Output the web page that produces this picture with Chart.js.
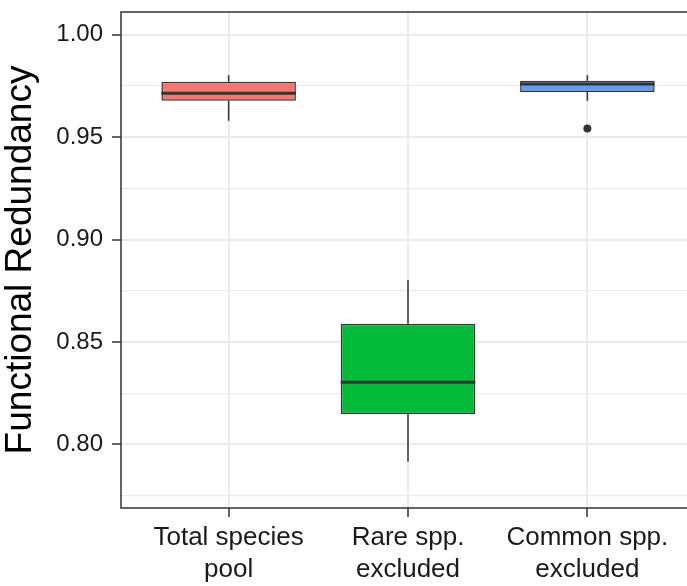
<!DOCTYPE html>
<html>
<head>
<meta charset="utf-8">
<script src="https://cdn.jsdelivr.net/npm/chart.js@4"></script>
<style>
html, body { margin: 0; padding: 0; overflow: hidden; background: #fff; }
</style>
</head>
<body>
<canvas id="chart" width="700" height="586"></canvas>
<script>
const groups = [['Total species', 'pool'], ['Rare spp.', 'excluded'], ['Common spp.', 'excluded']];
const positions = [1, 2, 3];
const lowerWhisker = [0.9580, 0.7916, 0.9677];
const q1 = [0.9677, 0.8149, 0.9720];
const median = [0.9713, 0.8303, 0.9759];
const q3 = [0.9770, 0.8589, 0.9775];
const upperWhisker = [0.9802, 0.8802, 0.9802];
const outlierPos = [3];
const outlierValue = [0.9542];
const fills = ['#F8766D', '#00BA38', '#619CFF'];
const yTicks = [0.775, 0.8, 0.825, 0.85, 0.875, 0.9, 0.925, 0.95, 0.975, 1.0];

const isMajor = v => Math.round(v * 1000) % 50 === 0;
const font = 'Liberation Sans, Arial, sans-serif';

// whiskers behind the boxes, medians and the panel border on top
const boxParts = {
    id: 'boxParts',
    beforeDatasetsDraw(chart) {
        const ctx = chart.ctx;
        const y = chart.scales.y;
        const bars = chart.getDatasetMeta(0).data;
        ctx.save();
        ctx.strokeStyle = '#333';
        ctx.lineWidth = 1.5;
        bars.forEach((bar, i) => {
            ctx.beginPath();
            ctx.moveTo(bar.x, y.getPixelForValue(upperWhisker[i]));
            ctx.lineTo(bar.x, y.getPixelForValue(q3[i]));
            ctx.moveTo(bar.x, y.getPixelForValue(q1[i]));
            ctx.lineTo(bar.x, y.getPixelForValue(lowerWhisker[i]));
            ctx.stroke();
        });
        ctx.restore();
    },
    afterDatasetsDraw(chart) {
        const ctx = chart.ctx;
        const y = chart.scales.y;
        const bars = chart.getDatasetMeta(0).data;
        ctx.save();
        ctx.strokeStyle = '#333';
        ctx.lineWidth = 3;
        bars.forEach((bar, i) => {
            const py = y.getPixelForValue(median[i]);
            ctx.beginPath();
            ctx.moveTo(bar.x - bar.width / 2, py);
            ctx.lineTo(bar.x + bar.width / 2, py);
            ctx.stroke();
        });
        const a = chart.chartArea;
        ctx.lineWidth = 1.5;
        ctx.strokeRect(a.left, a.top, a.right - a.left, a.bottom - a.top);
        ctx.restore();
    }
};

const ctx = document.getElementById('chart').getContext('2d');
window.myChart = new Chart(ctx, {
    type: 'bar',
    data: {
        datasets: [{
            data: positions.map((p, i) => ({ x: p, y: [q1[i], q3[i]] })),
            backgroundColor: fills,
            borderColor: '#333',
            borderWidth: 1.5,
            borderSkipped: false,
            barPercentage: 0.75,
            categoryPercentage: 1.0
        }, {
            type: 'scatter',
            data: outlierPos.map((p, i) => ({ x: p, y: outlierValue[i] })),
            pointRadius: 4,
            backgroundColor: '#333',
            borderWidth: 0
        }]
    },
    options: {
        responsive: false,
        animation: false,
        layout: { padding: { top: 12, right: 5, left: 0, bottom: 0 } },
        plugins: { legend: { display: false }, tooltip: { enabled: false } },
        scales: {
            x: {
                type: 'linear',
                min: 0.4,
                max: 3.6,
                offset: false,
                afterBuildTicks: s => { s.ticks = positions.map(v => ({ value: v })); },
                afterFit: s => { s.height = 78; s.paddingLeft = 0; s.paddingRight = 0; },
                ticks: {
                    callback: v => groups[positions.indexOf(v)],
                    font: { size: 26, family: font, lineHeight: 1.26 },
                    color: '#1a1a1a',
                    maxRotation: 0,
                    autoSkip: false,
                    padding: 4
                },
                grid: { offset: false, color: '#EBEBEB', lineWidth: 2, tickLength: 9, tickColor: '#333', tickWidth: 1.5 },
                border: { display: false }
            },
            y: {
                min: 0.769,
                max: 1.011,
                afterBuildTicks: s => { s.ticks = yTicks.map(v => ({ value: v })); },
                afterFit: s => { s.width = 121; s.paddingTop = 0; s.paddingBottom = 0; },
                ticks: {
                    callback: v => isMajor(v) ? v.toFixed(2) : '',
                    font: { size: 24, family: font },
                    color: '#1a1a1a',
                    autoSkip: false,
                    padding: 9
                },
                grid: {
                    color: '#EBEBEB',
                    lineWidth: c => isMajor(c.tick.value) ? 2 : 1.2,
                    tickLength: 9,
                    tickColor: c => isMajor(c.tick.value) ? '#333' : 'rgba(0,0,0,0)',
                    tickWidth: 1.5
                },
                border: { display: false },
                title: {
                    display: true,
                    text: 'Functional Redundancy',
                    font: { size: 37, family: font, lineHeight: 1.15 },
                    color: '#000',
                    padding: { top: 0, bottom: 0 }
                }
            }
        }
    },
    plugins: [boxParts]
});
</script>
</body>
</html>
